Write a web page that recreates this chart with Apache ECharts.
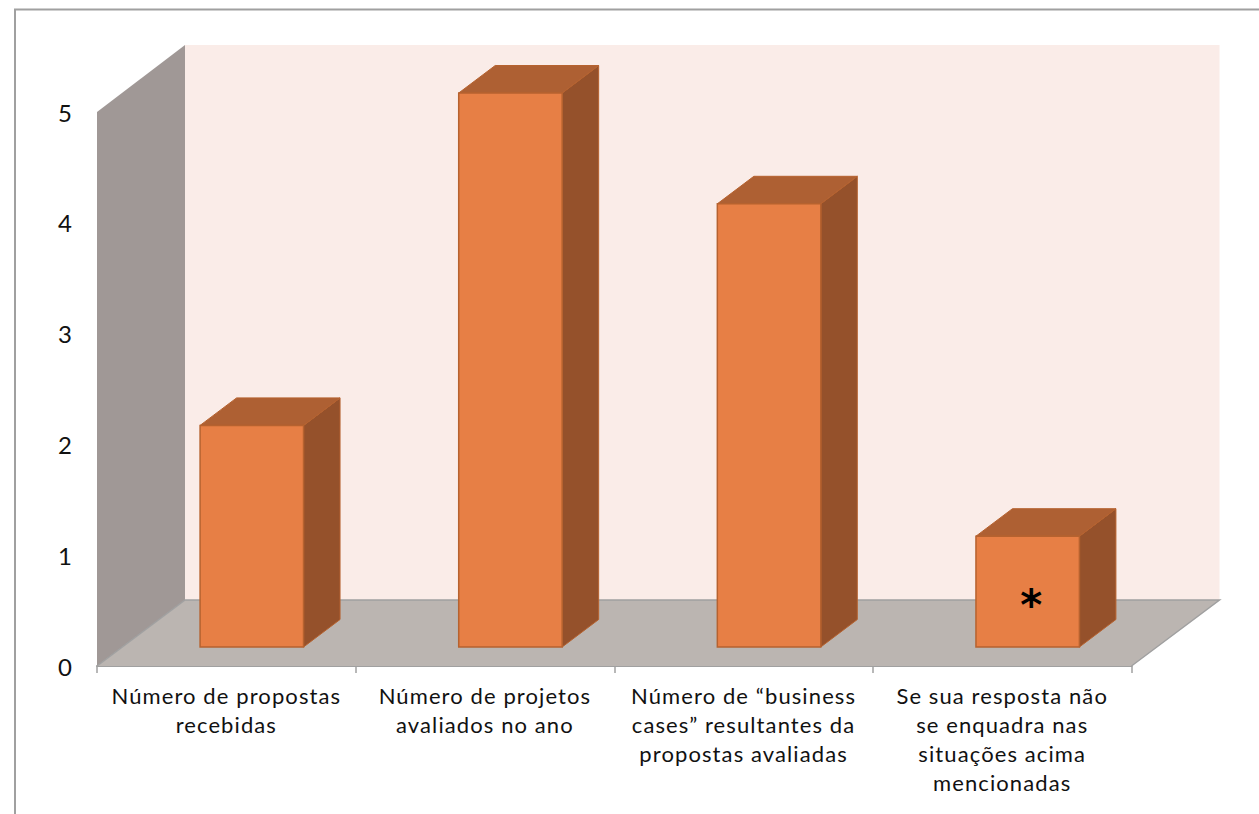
<!DOCTYPE html>
<html><head><meta charset="utf-8">
<style>html,body{margin:0;padding:0;background:#fff}#c{width:1259px;height:814px}#c text{letter-spacing:1.1px}</style>
<script src="https://cdn.jsdelivr.net/npm/echarts@6/dist/echarts.min.js"></script>
</head><body><div id="c"></div>
<script>
const categories = ['Número de propostas\nrecebidas','Número de projetos\navaliados no ano','Número de “business\ncases” resultantes da\npropostas avaliadas','Se sua resposta não\nse enquadra nas\nsituações acima\nmencionadas'];
const values = [2,5,4,1];
const notes = ['','','','*'];
const yTicks = [0,1,2,3,4,5];
const FONT = 'Lato';
const ROOM = {dx:88, dy:-66, wallTop:-67};
const BAR = {widthShare:0.4, shiftX:25.5, shiftY:-19, dx:36.5, dy:-27.5};
const COL = {back:'#FAECE8', side:'#A09896', floor:'#BBB5B1', edge:'#A0A0A0', front:'#E77F45', barSide:'#95512B', top:'#AE6033', stroke:'#B6622F'};

function poly(points, fill, stroke, lw){
  return {type:'polygon', shape:{points}, style:{fill, stroke:stroke||null, lineWidth:lw||0}};
}
function renderRoom(params, api){
  const r = params.coordSys, L=r.x, T=r.y, R=r.x+r.width, B=r.y+r.height, d=ROOM;
  return {type:'group', silent:true, children:[
    poly([[L+d.dx,T+d.wallTop],[R+d.dx,T+d.wallTop],[R+d.dx,B+d.dy],[L+d.dx,B+d.dy]],COL.back),
    poly([[L,T],[L+d.dx,T+d.wallTop],[L+d.dx,B+d.dy],[L,B]],COL.side),
    poly([[L,B],[L+d.dx,B+d.dy],[R+d.dx,B+d.dy],[R,B]],COL.floor),
    {type:'polyline',shape:{points:[[L,B],[L+d.dx,B+d.dy],[R+d.dx,B+d.dy],[R,B]]},style:{fill:null,stroke:COL.edge,lineWidth:1.5}}
  ]};
}
function renderBar(params, api){
  const top = api.coord([api.value(0), api.value(1)]);
  const base = api.coord([api.value(0), 0]);
  const w = api.size([1,0])[0]*BAR.widthShare;
  const x0 = top[0]-w/2+BAR.shiftX, x1 = x0+w;
  const y0 = top[1]+BAR.shiftY, y1 = base[1]+BAR.shiftY;
  const dx=BAR.dx, dy=BAR.dy;
  const children = [
    poly([[x1,y0],[x1+dx,y0+dy],[x1+dx,y1+dy],[x1,y1]],COL.barSide,COL.stroke,1),
    poly([[x0,y0],[x0+dx,y0+dy],[x1+dx,y0+dy],[x1,y0]],COL.top,COL.stroke,1),
    poly([[x0,y0],[x1,y0],[x1,y1],[x0,y1]],COL.front,COL.stroke,1.5)
  ];
  const note = notes[params.dataIndex];
  if(note){
    children.push({type:'text',style:{text:note,x:(x0+x1)/2+4,y:(y0+y1)/2+14,align:'center',verticalAlign:'middle',font:'bold 42px "DejaVu Sans"',fill:'#000'}});
  }
  return {type:'group',children};
}
const chart = echarts.init(document.getElementById('c'),null,{renderer:'svg'});
chart.setOption({
  animation:false,
  backgroundColor:'#fff',
  graphic:[{type:'rect',shape:{x:15,y:9.5,width:1400,height:1000},style:{fill:null,stroke:'#A0A0A0',lineWidth:2},silent:true,z:0}],
  grid:{left:97,right:127.5,top:112,bottom:148,containLabel:false},
  xAxis:{type:'category',data:categories,
    axisLine:{show:true,lineStyle:{color:COL.edge,width:2}},
    axisTick:{show:true,length:7,lineStyle:{color:COL.edge,width:1.5}},
    axisLabel:{interval:0,color:'#111',fontFamily:FONT,fontSize:22,lineHeight:29,margin:15,hideOverlap:false}},
  yAxis:{type:'value',min:0,max:5,interval:1,
    axisLine:{show:false},axisTick:{show:false},splitLine:{show:false},
    axisLabel:{color:'#111',fontFamily:FONT,fontSize:24,margin:24,padding:[4,0,0,0],formatter:v=>yTicks.includes(v)?String(v):''}},
  series:[
    {type:'custom',name:'room',coordinateSystem:'cartesian2d',data:[[0,0]],renderItem:renderRoom,silent:true,z:1,clip:false},
    {type:'custom',name:'Valores',coordinateSystem:'cartesian2d',data:values.map((v,i)=>[i,v]),renderItem:renderBar,z:2,clip:false,encode:{x:0,y:1}}
  ]
});
</script></body></html>
